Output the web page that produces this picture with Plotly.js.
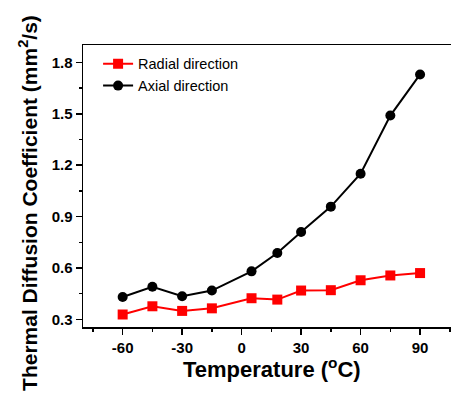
<!DOCTYPE html>
<html>
<head>
<meta charset="utf-8">
<script src="https://cdn.plot.ly/plotly-3.0.1.min.js"></script>
<style>
  html, body { margin: 0; padding: 0; background: #ffffff; overflow: hidden; }
  #chart { width: 451px; height: 394px; }
</style>
</head>
<body>
<div id="chart"></div>
<script>
// Temperatures (°C) at which the diffusivity was measured
const temperature = [-60, -45, -30, -15, 5, 18, 30, 45, 60, 75, 90];

// Thermal diffusion coefficient (mm²/s)
const radial = [0.328, 0.376, 0.349, 0.364, 0.423, 0.415, 0.468, 0.470, 0.528, 0.556, 0.570];
const axial  = [0.430, 0.490, 0.435, 0.468, 0.580, 0.687, 0.810, 0.958, 1.150, 1.490, 1.730];

const seriesNames = ['Radial direction', 'Axial direction'];
const xTickVals = [-60, -30, 0, 30, 60, 90];
const yTickVals = [0.3, 0.6, 0.9, 1.2, 1.5, 1.8];

const xTitle = 'Temperature (<sup>o</sup>C)';
const yTitle = 'Thermal Diffusion Coefficient (mm<sup>2</sup>/s)';

const font = 'Arial, "Liberation Sans", sans-serif';

const traces = [
  {
    x: temperature, y: radial, name: seriesNames[0],
    type: 'scatter', mode: 'lines+markers',
    line: { color: '#ff0000', width: 2 },
    marker: { symbol: 'square', size: 10, color: '#ff0000' }
  },
  {
    x: temperature, y: axial, name: seriesNames[1],
    type: 'scatter', mode: 'lines+markers',
    line: { color: '#000000', width: 2 },
    marker: { symbol: 'circle', size: 10, color: '#000000' }
  }
];

const layout = {
  width: 451, height: 394,
  margin: { l: 83, r: 0, t: 45, b: 67 },
  paper_bgcolor: '#ffffff', plot_bgcolor: '#ffffff',
  font: { family: font, color: '#000000' },
  showlegend: true,
  legend: {
    x: 0.041, y: 0.99, xanchor: 'left', yanchor: 'top',
    bgcolor: 'rgba(0,0,0,0)',
    font: { family: font, size: 14.5, color: '#000000' },
    tracegroupgap: 0
  },
  xaxis: {
    range: [-80, 105.6],
    tickvals: xTickVals, ticktext: xTickVals.map(String),
    ticks: 'outside', ticklen: 6, tickwidth: 1.5, tickcolor: '#000',
    minor: { dtick: 15, tick0: -75, ticks: 'outside', ticklen: 3, tickwidth: 1.5, tickcolor: '#000' },
    showline: true, linecolor: '#000', linewidth: 1.5, mirror: true,
    showgrid: false, zeroline: false,
    tickfont: { family: font, size: 15, color: '#000', weight: 'bold' }
  },
  yaxis: {
    range: [0.255, 1.902],
    tickvals: yTickVals, ticktext: yTickVals.map(v => v.toFixed(1)),
    ticks: 'outside', ticklen: 6, tickwidth: 1.5, tickcolor: '#000',
    minor: { dtick: 0.15, tick0: 0.15, ticks: 'outside', ticklen: 3, tickwidth: 1.5, tickcolor: '#000' },
    showline: true, linecolor: '#000', linewidth: 1.5, mirror: false,
    showgrid: false, zeroline: false,
    tickfont: { family: font, size: 15, color: '#000', weight: 'bold' }
  },
  // Axis titles placed as annotations so their position can be set freely
  annotations: [
    {
      text: xTitle, xref: 'paper', yref: 'paper',
      x: 0.514, y: -0.145, xanchor: 'center', yanchor: 'middle',
      showarrow: false,
      font: { family: font, size: 22, color: '#000', weight: 'bold' }
    },
    {
      text: yTitle, xref: 'paper', yref: 'paper', textangle: -90,
      x: -0.1495, y: 0.44, xanchor: 'center', yanchor: 'middle',
      showarrow: false,
      font: { family: font, size: 21, color: '#000', weight: 'bold' }
    }
  ]
};

Plotly.newPlot('chart', traces, layout, { displayModeBar: false, staticPlot: true });
</script>
</body>
</html>
